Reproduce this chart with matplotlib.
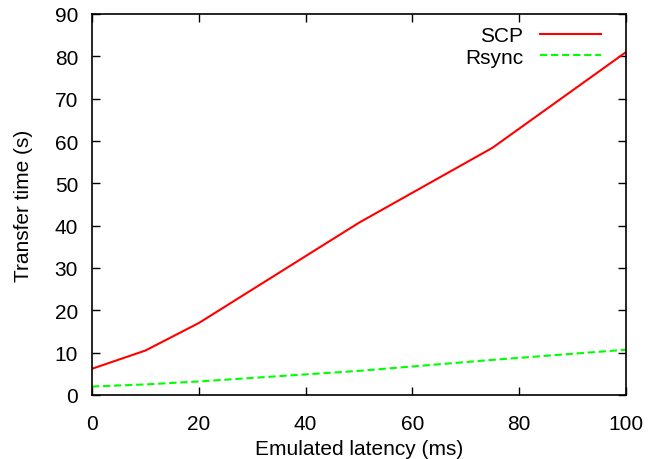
import matplotlib
matplotlib.use("Agg")
import matplotlib.pyplot as plt

latency = [0, 10, 20, 50, 75, 100]
scp = [6.2, 10.5, 17.0, 40.7, 58.4, 81.0]
rsync = [2.0, 2.5, 3.2, 5.7, 8.3, 10.7]

plt.rcParams["font.family"] = ["Liberation Sans", "DejaVu Sans"]
plt.rcParams["font.size"] = 15

fig = plt.figure(figsize=(6.49, 4.6), dpi=100)
ax = fig.add_axes([92 / 649, 1 - 396 / 460, (626 - 92) / 649, (396 - 15) / 460])

ax.plot(latency, scp, color="#ff0000", lw=1.5, label="SCP")
ax.plot(latency, rsync, color="#00ff00", lw=1.5, dashes=(3.5, 1.8), label="Rsync")

ax.set_xlim(0, 100)
ax.set_ylim(0, 90)
ax.set_xticks(range(0, 101, 20))
ax.set_yticks(range(0, 91, 10))
ax.tick_params(direction="in", top=True, right=True, length=6, width=1)
ax.tick_params(axis="x", pad=14)
ax.tick_params(axis="y", pad=10)
for s in ax.spines.values():
    s.set_linewidth(1.2)
ax.set_xlabel("Emulated latency (ms)", labelpad=4)
ax.set_ylabel("Transfer time (s)", labelpad=16)
ax.legend(loc="upper right", bbox_to_anchor=(0.953, 0.968), frameon=False,
          markerfirst=False, handlelength=2.93, borderaxespad=0, borderpad=0,
          labelspacing=0.12, handletextpad=0.8)

fig.savefig("out.png", dpi=100)
